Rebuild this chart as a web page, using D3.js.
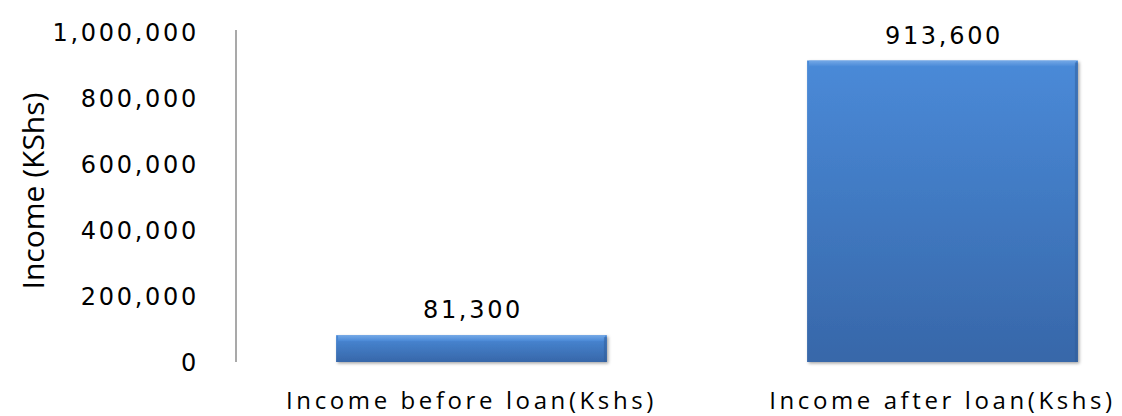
<!DOCTYPE html>
<html><head><meta charset="utf-8">
<script src="https://cdn.jsdelivr.net/npm/d3@7"></script>
<style>body{margin:0;background:#fff}svg{display:block}</style>
</head><body>
<svg id="c" width="1122" height="416"></svg>
<script>
const categories = ["Income before loan(Kshs)", "Income after loan(Kshs)"];
const values = [81300, 913600];
const tickValues = [0, 200000, 400000, 600000, 800000, 1000000];
const yTitle = "Income (KShs)";

const svg = d3.select("#c");
const fmt = d3.format(",");
const y = d3.scaleLinear().domain([0, 1000000]).range([362, 32]);
const x = d3.scaleBand().domain(categories).range([236, 1178]).paddingInner(0.425).paddingOuter(0.2125);

const defs = svg.append("defs");
const g = defs.append("linearGradient").attr("id","bg").attr("x1",0).attr("y1",0).attr("x2",0).attr("y2",1);
g.append("stop").attr("offset","0%").attr("stop-color","#4a8ad8");
g.append("stop").attr("offset","100%").attr("stop-color","#3767a9");
const gh = defs.append("linearGradient").attr("id","hl").attr("x1",0).attr("y1",0).attr("x2",0).attr("y2",1);
gh.append("stop").attr("offset","0%").attr("stop-color","#7fb0ea");
gh.append("stop").attr("offset","100%").attr("stop-color","#4a8ad8");
const f = defs.append("filter").attr("id","sh").attr("x","-10%").attr("y","-10%").attr("width","130%").attr("height","130%");
f.append("feDropShadow").attr("dx",1.5).attr("dy",1.5).attr("stdDeviation",1.5).attr("flood-color","#000").attr("flood-opacity",0.35);

const axis = d3.axisLeft(y).tickValues(tickValues).tickFormat(fmt).tickSize(0).tickPadding(37);
const ag = svg.append("g").attr("transform","translate(236,0)").call(axis);
ag.select(".domain").attr("stroke","#8c8c8c").attr("stroke-width",1.5).attr("d","M0,30V362");
ag.selectAll("text").attr("font-family","DejaVu Sans").attr("font-size",24).attr("fill","#000").attr("letter-spacing","2.7px").attr("dy","0.35em");

svg.append("text").attr("transform","translate(44,191) rotate(-90)").attr("text-anchor","middle")
  .attr("font-family","Open Sans").attr("font-size",30).attr("fill","#000").text(yTitle);

const bars = svg.selectAll(".bar").data(values).join("g").attr("class","bar");
bars.append("rect").attr("x",(d,i)=>x(categories[i])).attr("y",d=>y(d)).attr("width",x.bandwidth())
  .attr("height",d=>y(0)-y(d)).attr("fill","url(#bg)").attr("filter","url(#sh)");
bars.append("rect").attr("x",(d,i)=>x(categories[i])+2).attr("y",d=>y(d)).attr("width",x.bandwidth()-4)
  .attr("height",d=>Math.min(6,(y(0)-y(d))/3)).attr("fill","url(#hl)").attr("opacity",0.8);
bars.append("rect").attr("x",(d,i)=>x(categories[i])+x.bandwidth()-3).attr("y",d=>y(d)+2).attr("width",3)
  .attr("height",d=>y(0)-y(d)-2).attr("fill","#2f5b97").attr("opacity",0.5);

svg.selectAll(".vl").data(values).join("text").attr("class","vl")
  .attr("x",(d,i)=>x(categories[i])+x.bandwidth()/2+1.5).attr("y",d=>y(d)-17)
  .attr("text-anchor","middle").attr("font-family","DejaVu Sans").attr("font-size",24).attr("letter-spacing","2.7px").attr("fill","#000")
  .text(d=>fmt(d));

svg.selectAll(".cl").data(categories).join("text").attr("class","cl")
  .attr("x",d=>x(d)+x.bandwidth()/2).attr("y",409)
  .attr("text-anchor","middle").attr("font-family","Open Sans").attr("font-size",24).attr("letter-spacing","3.6px").attr("fill","#000")
  .text(d=>d);
</script>
</body></html>
